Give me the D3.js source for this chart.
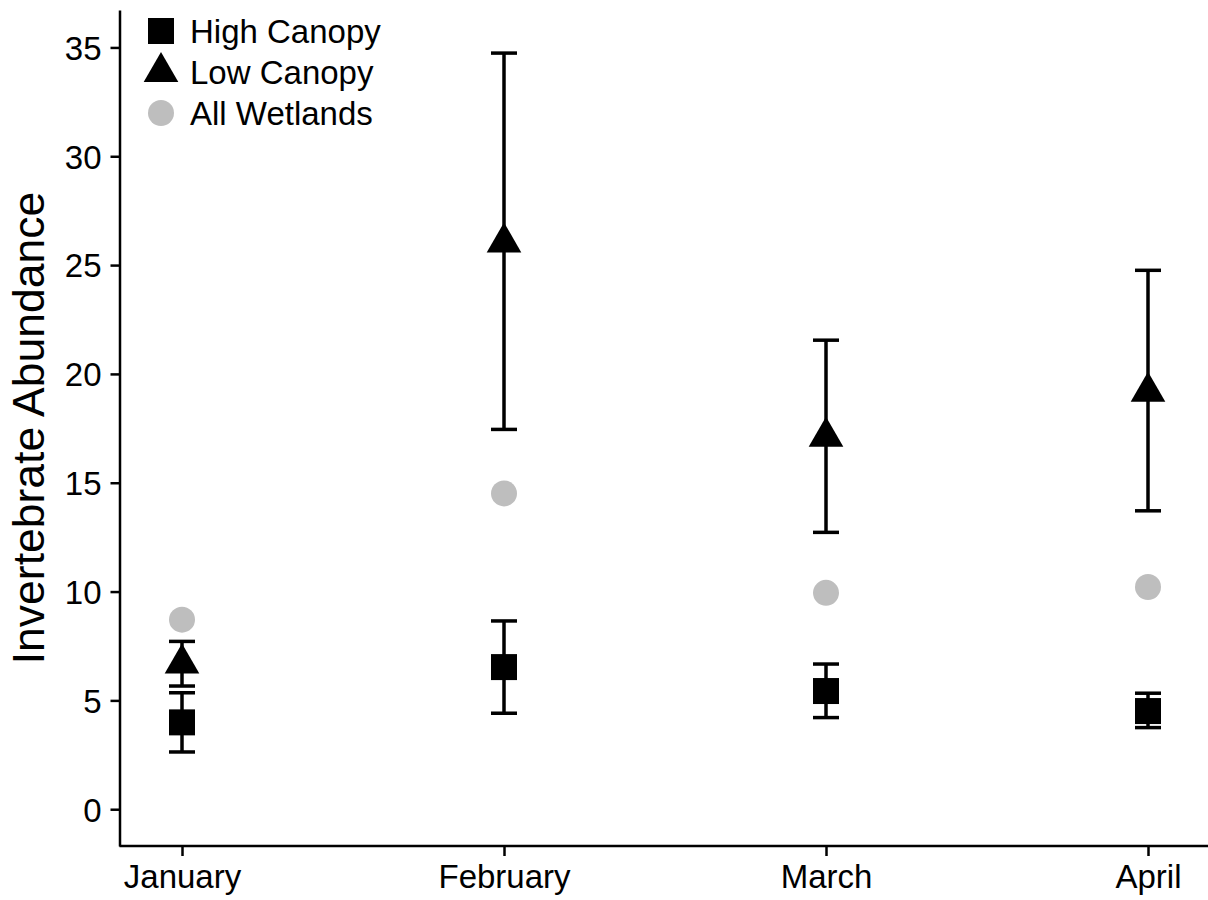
<!DOCTYPE html>
<html>
<head>
<meta charset="utf-8">
<script src="https://cdn.jsdelivr.net/npm/d3@7"></script>
<style>
  body { margin: 0; background: #fff; }
  svg text { font-family: "Liberation Sans", Arial, sans-serif; fill: #000; }
</style>
</head>
<body>
<div id="chart"></div>
<script>
// data
var months = ['January', 'February', 'March', 'April'];
var highMean = [3.99, 6.53, 5.43, 4.51];
var highLo = [2.63, 4.41, 4.21, 3.75];
var highHi = [5.35, 8.65, 6.67, 5.33];
var lowMean = [6.69, 26.04, 17.11, 19.18];
var lowLo = [5.66, 17.45, 12.72, 13.71];
var lowHi = [7.71, 34.74, 21.55, 24.76];
var allMean = [8.71, 14.51, 9.94, 10.21];
var yTicks = [0, 5, 10, 15, 20, 25, 30, 35];
var legendLabels = ['High Canopy', 'Low Canopy', 'All Wetlands'];

var width = 1208, height = 900;
var plotLeft = 119.5, plotBottom = 846, plotTop = 10, plotRight = 1208;

var svg = d3.select('#chart').append('svg')
  .attr('width', width)
  .attr('height', height);

//scales
var x = d3.scalePoint().domain(months).range([182, 1148]);
var y = d3.scaleLinear().domain([-1.69, 36.72]).range([plotBottom, plotTop]);

//y axis
var yAxis = svg.append('g')
  .attr('transform', 'translate(' + plotLeft + ',0)')
  .call(d3.axisLeft(y).tickValues(yTicks).tickSize(9).tickSizeOuter(0).tickPadding(9));
yAxis.select('.domain').attr('stroke', '#000').attr('stroke-width', 2.5);
yAxis.selectAll('.tick line').attr('stroke', '#000').attr('stroke-width', 2.5);
yAxis.selectAll('.tick text').style('font-size', '33px').attr('dy', '0.36em');

//x axis
var xAxis = svg.append('g')
  .attr('transform', 'translate(0,' + plotBottom + ')')
  .call(d3.axisBottom(x).tickSize(10).tickSizeOuter(0).tickPadding(8));
xAxis.select('.domain').remove();
xAxis.append('line')
  .attr('x1', plotLeft).attr('x2', plotRight)
  .attr('stroke', '#000').attr('stroke-width', 2.5);
xAxis.selectAll('.tick line').attr('stroke', '#000').attr('stroke-width', 2.5);
xAxis.selectAll('.tick text').style('font-size', '33px').attr('dy', '0.74em');

//y axis title
svg.append('text')
  .attr('transform', 'translate(44,428) rotate(-90)')
  .attr('text-anchor', 'middle')
  .style('font-size', '44.5px')
  .text('Invertebrate Abundance');

var capW = 13;

//all wetlands points
svg.selectAll('.allpt').data(months).enter().append('circle')
  .attr('class', 'allpt')
  .attr('cx', function(d) { return x(d); })
  .attr('cy', function(d, i) { return y(allMean[i]); })
  .attr('r', 13)
  .style('fill', '#bebebe');

//error bars
function errorBars(lo, hi, cls) {
  var g = svg.append('g').attr('class', cls)
    .attr('stroke', '#000').attr('stroke-width', 3.5).attr('fill', 'none');
  months.forEach(function(m, i) {
    var cx = x(m);
    g.append('line').attr('x1', cx).attr('x2', cx).attr('y1', y(lo[i])).attr('y2', y(hi[i]));
    g.append('line').attr('x1', cx - capW).attr('x2', cx + capW).attr('y1', y(lo[i])).attr('y2', y(lo[i]));
    g.append('line').attr('x1', cx - capW).attr('x2', cx + capW).attr('y1', y(hi[i])).attr('y2', y(hi[i]));
  });
}
errorBars(lowLo, lowHi, 'lowerr');
errorBars(highLo, highHi, 'higherr');

var squareSym = d3.symbol().type(d3.symbolSquare).size(676);
var triSym = d3.symbol().type(d3.symbolTriangle).size(520);
var circSym = d3.symbol().type(d3.symbolCircle).size(531);

//low canopy triangles
svg.selectAll('.lowpt').data(months).enter().append('path')
  .attr('class', 'lowpt')
  .attr('d', triSym)
  .attr('transform', function(d, i) { return 'translate(' + x(d) + ',' + y(lowMean[i]) + ')'; })
  .style('fill', '#000');

//high canopy squares
svg.selectAll('.highpt').data(months).enter().append('path')
  .attr('class', 'highpt')
  .attr('d', squareSym)
  .attr('transform', function(d, i) { return 'translate(' + x(d) + ',' + y(highMean[i]) + ')'; })
  .style('fill', '#000');

//legend
var legendSyms = [squareSym, triSym, circSym];
var legendFill = ['#000', '#000', '#bebebe'];
var legend = svg.append('g').attr('transform', 'translate(161,31)');
legendLabels.forEach(function(label, i) {
  var row = legend.append('g').attr('transform', 'translate(0,' + (i * 41) + ')');
  row.append('path').attr('d', legendSyms[i]).style('fill', legendFill[i]);
  row.append('text')
    .attr('x', 29)
    .attr('y', 12)
    .style('font-size', '33px')
    .text(label);
});
</script>
</body>
</html>
